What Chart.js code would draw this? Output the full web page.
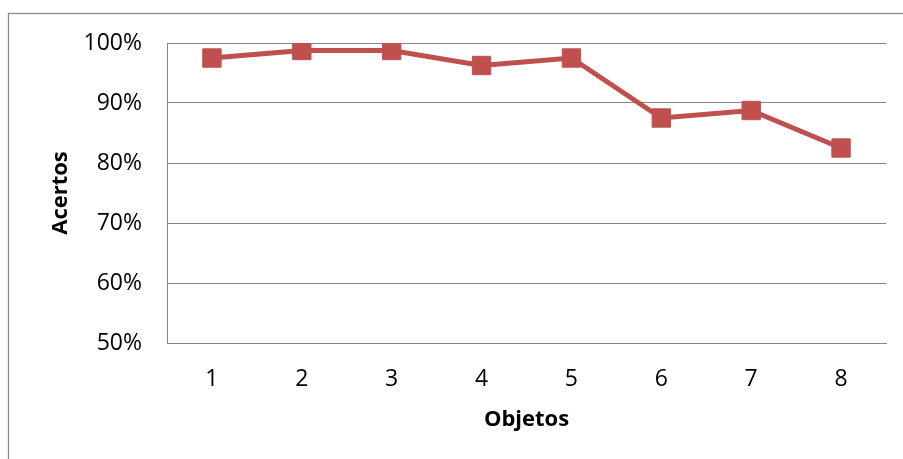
<!DOCTYPE html>
<html>
<head>
<meta charset="utf-8">
<script src="https://cdn.jsdelivr.net/npm/chart.js@4/dist/chart.umd.min.js"></script>
<style>
  html, body { margin: 0; padding: 0; background: #fff; }
  #wrap { width: 903px; height: 459px; position: relative; }
</style>
</head>
<body>
<div id="wrap"><canvas id="c" width="903" height="459"></canvas></div>
<script>
// Objects and hit rate (%) per object
const objetos = ['1', '2', '3', '4', '5', '6', '7', '8'];
const acertos = [97.5, 98.75, 98.75, 96.25, 97.5, 87.5, 88.75, 82.5];
const yTicks = [50, 60, 70, 80, 90, 100];

const FONT = "'Open Sans', 'Liberation Sans', sans-serif";
const GRID = '#878787';
const RED = '#C0504D';

// Gray frame around the whole chart
const framePlugin = {
  id: 'frame',
  beforeDraw(chart) {
    const ctx = chart.ctx;
    ctx.save();
    ctx.strokeStyle = '#8a8a8a';
    ctx.lineWidth = 1.3;
    ctx.strokeRect(8.5, 13.5, chart.width + 20, chart.height + 20);
    ctx.restore();
  }
};

new Chart(document.getElementById('c'), {
  type: 'line',
  data: {
    labels: objetos,
    datasets: [{
      data: acertos,
      borderColor: RED,
      backgroundColor: RED,
      borderWidth: 5,
      pointStyle: 'rect',
      pointRadius: 13,
      pointBorderWidth: 1,
      pointBorderColor: RED,
      pointBackgroundColor: RED,
      tension: 0
    }]
  },
  options: {
    responsive: false,
    animation: false,
    layout: { padding: { left: 0, right: 17, top: 43, bottom: 0 } },
    plugins: { legend: { display: false }, tooltip: { enabled: false } },
    scales: {
      x: {
        offset: true,
        grid: { display: false, drawTicks: false },
        border: { display: true, color: GRID, width: 1 },
        ticks: { color: '#000', font: { family: FONT, size: 23 }, padding: 23 },
        title: {
          display: true, text: 'Objetos', color: '#000',
          font: { family: FONT, size: 22, weight: 'bold' },
          padding: { top: 0, bottom: 26 }
        },
        afterFit(scale) { scale.height = 116; }
      },
      y: {
        min: 50, max: 100,
        afterBuildTicks(scale) { scale.ticks = yTicks.map(v => ({ value: v })); },
        grid: { color: GRID, lineWidth: 1, drawTicks: false },
        border: { display: true, color: GRID, width: 1 },
        ticks: {
          color: '#000', font: { family: FONT, size: 23 }, padding: 25,
          callback: v => v + '%'
        },
        title: {
          display: true, text: 'Acertos', color: '#000',
          font: { family: FONT, size: 22, weight: 'bold' },
          padding: { top: 48, bottom: 0 }
        },
        afterFit(scale) { scale.width = 167; }
      }
    }
  },
  plugins: [framePlugin]
});
</script>
</body>
</html>
